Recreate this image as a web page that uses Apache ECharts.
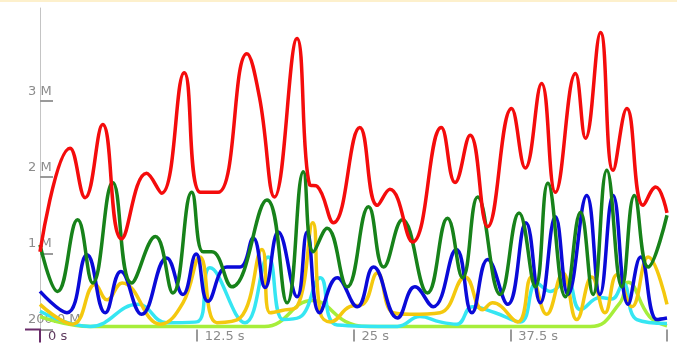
<!DOCTYPE html>
<html><head><meta charset="utf-8">
<script src="https://cdn.jsdelivr.net/npm/echarts@6/dist/echarts.min.js"></script>
<style>
html,body{margin:0;padding:0;background:#fff;}
#top{position:absolute;left:0;top:0;width:677px;height:2px;background:#fdf0cc;z-index:5}
#c{width:677px;height:345px;}
</style>
</head><body><div id="top"></div><div id="c"></div>
<script>
// ---- axis ticks / labels ----
const xTicks = [0, 12.5, 25, 37.5, 50];
const xTickLabels = ['0 s', '12.5 s', '25 s', '37.5 s', ''];
const yTicks = [0, 1, 2, 3];
const yTickLabels = ['200.0 M', '1 M', '2 M', '3 M'];

// ---- series (time in s, value in millions) ----
const redTime = [0,2.4,3.6,5.0,6.5,8.5,9.7,11.5,12.8,14.2,16.5,17.5,18.7,20.5,21.5,22.1,23.4,25.5,26.9,27.9,29.7,32.0,33.1,34.3,35.7,37.6,38.7,40.0,41.1,42.7,43.5,44.7,45.7,46.8,48.1,49.1,50];
const redVals = [1.02,2.38,1.73,2.69,1.19,2.05,1.79,3.37,1.80,1.80,3.62,3.05,1.74,3.82,1.90,1.88,1.40,2.65,1.63,1.84,1.15,2.65,1.93,2.55,1.35,2.90,2.12,3.23,1.80,3.36,2.51,3.90,2.09,2.90,1.63,1.87,1.53];

const greenTime = [0,1.4,3.0,4.2,5.8,7.3,9.2,10.6,12.1,13.0,13.7,15.3,18.1,19.7,21.0,21.8,22.9,24.5,26.2,27.4,28.9,30.9,32.5,33.7,34.9,36.7,38.2,39.5,40.5,41.9,43.1,44.1,45.2,46.4,47.4,48.5,50];
const greenVals = [1.11,0.50,1.44,0.61,1.93,0.61,1.22,0.48,1.80,1.02,1.02,0.56,1.70,0.35,2.07,1.02,1.33,0.56,1.61,0.82,1.44,0.48,1.46,0.68,1.74,0.46,1.53,0.56,1.92,0.43,1.54,0.46,2.09,0.56,1.76,0.82,1.50];

const blueTime = [0,2.15,3.75,5.2,6.45,8.1,10.1,11.4,12.45,13.4,14.9,15.95,17.0,17.95,19.0,20.5,21.3,22.3,23.7,25.3,26.6,28.5,29.9,31.35,33.2,34.45,35.7,37.3,38.75,39.9,41.1,42.1,43.6,44.65,45.7,46.9,47.9,49.2,50];
const blueVals = [0.50,0.22,0.98,0.22,0.76,0.20,0.94,0.46,0.99,0.37,0.82,0.82,1.20,0.55,1.28,0.43,1.28,0.22,0.68,0.30,0.82,0.15,0.56,0.30,1.05,0.22,0.92,0.33,1.40,0.35,1.48,0.46,1.76,0.46,1.76,0.33,0.95,0.13,0.15];

const yellowTime = [0,2.6,4.4,5.35,6.55,9.6,11.4,12.75,14.1,15.95,17.7,18.35,19.3,20.5,21.75,22.35,23.15,24.7,25.75,26.9,28.15,29.5,31.9,33.9,35.3,36.1,38.1,39.2,40.4,41.7,42.8,44.0,45.05,46.0,47.2,48.5,50];
const yellowVals = [0.33,0.07,0.59,0.39,0.61,0.07,0.35,0.95,0.09,0.15,1.05,0.22,0.25,0.30,1.40,0.22,0.10,0.30,0.33,0.74,0.22,0.20,0.22,0.69,0.26,0.35,0.10,0.69,0.20,0.74,0.13,0.69,0.22,0.72,0.30,0.95,0.33];

const cyanTime = [0,4.0,7.8,10.1,12.5,13.55,16.35,18.2,19.4,20.7,22.35,23.7,28.5,30.3,31.9,33.25,34.5,36.3,38.3,39.6,40.7,42.0,43.1,44.65,45.6,46.5,47.6,50];
const cyanVals = [0.24,0.04,0.33,0.09,0.10,0.81,0.09,0.95,0.13,0.16,0.68,0.06,0.04,0.17,0.10,0.07,0.30,0.22,0.10,0.61,0.50,0.65,0.26,0.42,0.40,0.60,0.13,0.08];

const limeTime = [0,4.0,17.9,21.7,24.7,26.3,43.9,46.25,46.9,48.6,50];
const limeVals = [0.17,0.04,0.04,0.38,0.08,0.04,0.04,0.35,0.62,0.17,0.05];

const seriesDefs = [
  {name:'lime',   color:'#a6ee3a', t:limeTime,   v:limeVals},
  {name:'cyan',   color:'#35e6f2', t:cyanTime,   v:cyanVals},
  {name:'yellow', color:'#f4c80e', t:yellowTime, v:yellowVals},
  {name:'blue',   color:'#0a0ad8', t:blueTime,   v:blueVals},
  {name:'green',  color:'#17821a', t:greenTime,  v:greenVals},
  {name:'red',    color:'#f40c0c', t:redTime,    v:redVals}
];

const chart = echarts.init(document.getElementById('c'), null, {renderer:'canvas'});
const font = '"DejaVu Sans", sans-serif';

chart.setOption({
  animation: false,
  backgroundColor: '#fff',
  grid: {left: 40, right: 10, top: 8, bottom: 15.5},
  xAxis: {
    type: 'value', min: 0, max: 50, interval: 12.5,
    axisLine: {show: false},
    splitLine: {show: false},
    axisTick: {show: true, length: 12, lineStyle: {color: '#9a9a9a', width: 2}},
    axisLabel: {
      show: true, margin: 1, align: 'left', padding: [0,0,0,8],
      color: '#8c8c8c', fontSize: 13, fontFamily: font,
      formatter: function (val) {
        const i = xTicks.indexOf(val);
        if (i < 0) return '';
        if (i === 0) return '{o|' + xTickLabels[0] + '}';
        return xTickLabels[i];
      },
      rich: {o: {color: '#5e3a5e', fontSize: 13, fontFamily: font}}
    }
  },
  yAxis: {
    type: 'value', min: 0, max: 4.22, interval: 1, offset: 15,
    splitLine: {show: false},
    axisLine: {show: true, lineStyle: {color: '#c4c4c4', width: 1}},
    axisTick: {show: true, inside: true, length: 13, customValues: yTicks, lineStyle: {color: '#9a9a9a', width: 2}},
    axisLabel: {
      show: true, inside: true, margin: 3, customValues: yTicks,
      verticalAlign: 'bottom', padding: [0,0,3,0],
      color: '#8c8c8c', fontSize: 13, fontFamily: font,
      formatter: function (val) {
        const i = yTicks.indexOf(val);
        return i < 0 ? '' : yTickLabels[i];
      }
    }
  },
  series: seriesDefs.map(function (s) {
    return {
      name: s.name, type: 'line',
      data: s.t.map(function (t, i) { return [t, s.v[i]]; }),
      showSymbol: false, smooth: 0.45,
      lineStyle: {color: s.color, width: 3.5},
      itemStyle: {color: s.color},
      clip: false
    };
  })
});

// purple origin bracket placed through the axis scales
const o = chart.convertToPixel({gridIndex: 0}, [0, 0]);
chart.setOption({
  graphic: [{
    type: 'polyline', z: 100,
    shape: {points: [[o[0] - 15, o[1]], [o[0], o[1]], [o[0], o[1] + 13]]},
    style: {stroke: '#6a2c6a', lineWidth: 2, fill: null}
  }]
});
</script>
</body></html>
